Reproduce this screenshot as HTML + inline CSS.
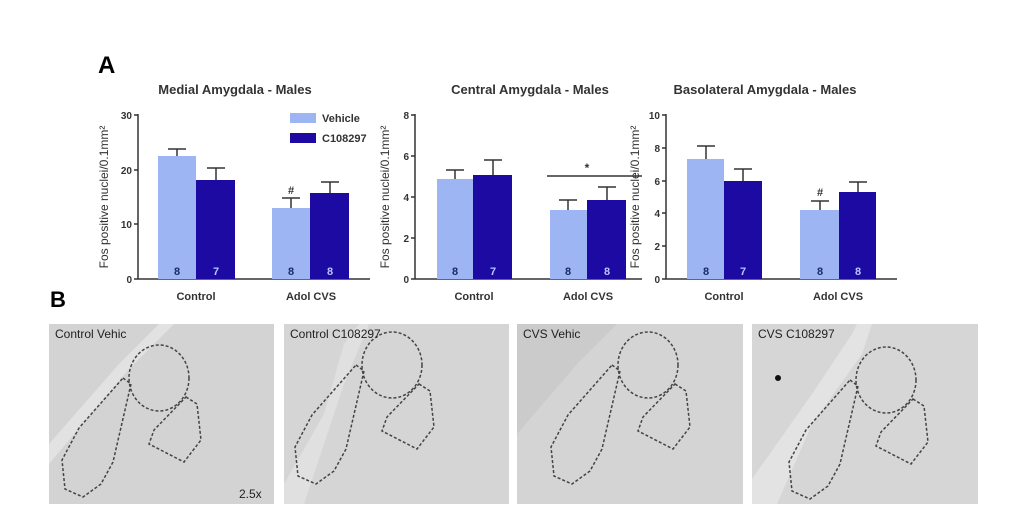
<!DOCTYPE html>
<html><head><meta charset="utf-8"><style>
html,body{margin:0;padding:0;background:#fff;}
svg{display:block;font-family:"Liberation Sans",Arial,sans-serif;}
</style></head><body>
<svg width="1023" height="515" viewBox="0 0 1023 515" xmlns="http://www.w3.org/2000/svg">
<rect width="1023" height="515" fill="#fff"/>
<text x="98" y="73" font-size="24" font-weight="bold">A</text>
<text x="50" y="307" font-size="22" font-weight="bold">B</text>

<g font-weight="bold" fill="#333">
<text x="235" y="94" font-size="13" text-anchor="middle">Medial Amygdala - Males</text>
<text x="530" y="94" font-size="13" text-anchor="middle">Central Amygdala - Males</text>
<text x="765" y="94" font-size="13" text-anchor="middle">Basolateral Amygdala - Males</text>
</g>

<!-- Panel 1 -->
<g stroke="#333" stroke-width="1.5" fill="none">
<line x1="138" y1="114" x2="138" y2="279"/><line x1="138" y1="279" x2="370" y2="279"/>
<line x1="134" y1="115" x2="138" y2="115"/><line x1="134" y1="170" x2="138" y2="170"/><line x1="134" y1="224" x2="138" y2="224"/><line x1="134" y1="279" x2="138" y2="279"/>
</g>
<g font-size="10" fill="#333" text-anchor="end" font-weight="bold"><text x="132" y="119">30</text><text x="132" y="174">20</text><text x="132" y="228">10</text><text x="132" y="283">0</text></g>
<text transform="translate(108,197) rotate(-90)" font-size="12" fill="#333" text-anchor="middle">Fos positive nuclei/0.1mm²</text>
<g stroke="#333" stroke-width="1.5">
<line x1="177" y1="156" x2="177" y2="149"/><line x1="168" y1="149" x2="186" y2="149"/>
<line x1="216" y1="180" x2="216" y2="168"/><line x1="207" y1="168" x2="225" y2="168"/>
<line x1="291" y1="208" x2="291" y2="198"/><line x1="282" y1="198" x2="300" y2="198"/>
<line x1="330" y1="193" x2="330" y2="182"/><line x1="321" y1="182" x2="339" y2="182"/>
</g>
<rect x="158" y="156" width="38" height="123" fill="#9db5f2"/>
<rect x="196" y="180" width="39" height="99" fill="#1c0aa3"/>
<rect x="272" y="208" width="38" height="71" fill="#9db5f2"/>
<rect x="310" y="193" width="39" height="86" fill="#1c0aa3"/>
<text x="291" y="194" font-size="11" font-weight="bold" text-anchor="middle" fill="#333">#</text>
<rect x="290" y="113" width="26" height="10" fill="#9db5f2"/><text x="322" y="122" font-size="11" font-weight="bold" fill="#333">Vehicle</text>
<rect x="290" y="133" width="26" height="10" fill="#1c0aa3"/><text x="322" y="142" font-size="11" font-weight="bold" fill="#333">C108297</text>

<!-- Panel 2 -->
<g stroke="#333" stroke-width="1.5" fill="none">
<line x1="415" y1="114" x2="415" y2="279"/><line x1="415" y1="279" x2="642" y2="279"/>
<line x1="411" y1="115" x2="415" y2="115"/><line x1="411" y1="156" x2="415" y2="156"/><line x1="411" y1="197" x2="415" y2="197"/><line x1="411" y1="238" x2="415" y2="238"/><line x1="411" y1="279" x2="415" y2="279"/>
</g>
<g font-size="10" fill="#333" text-anchor="end" font-weight="bold"><text x="409" y="119">8</text><text x="409" y="160">6</text><text x="409" y="201">4</text><text x="409" y="242">2</text><text x="409" y="283">0</text></g>
<text transform="translate(389,197) rotate(-90)" font-size="12" fill="#333" text-anchor="middle">Fos positive nuclei/0.1mm²</text>
<g stroke="#333" stroke-width="1.5">
<line x1="455" y1="179" x2="455" y2="170"/><line x1="446" y1="170" x2="464" y2="170"/>
<line x1="493" y1="175" x2="493" y2="160"/><line x1="484" y1="160" x2="502" y2="160"/>
<line x1="568" y1="210" x2="568" y2="200"/><line x1="559" y1="200" x2="577" y2="200"/>
<line x1="607" y1="200" x2="607" y2="187"/><line x1="598" y1="187" x2="616" y2="187"/>
<line x1="547" y1="176" x2="642" y2="176"/>
</g>
<rect x="437" y="179" width="36" height="100" fill="#9db5f2"/>
<rect x="473" y="175" width="39" height="104" fill="#1c0aa3"/>
<rect x="550" y="210" width="37" height="69" fill="#9db5f2"/>
<rect x="587" y="200" width="39" height="79" fill="#1c0aa3"/>
<text x="587" y="172" font-size="12" font-weight="bold" text-anchor="middle" fill="#333">*</text>

<!-- Panel 3 -->
<g stroke="#333" stroke-width="1.5" fill="none">
<line x1="666" y1="114" x2="666" y2="279"/><line x1="666" y1="279" x2="897" y2="279"/>
<line x1="662" y1="115" x2="666" y2="115"/><line x1="662" y1="148" x2="666" y2="148"/><line x1="662" y1="181" x2="666" y2="181"/><line x1="662" y1="213" x2="666" y2="213"/><line x1="662" y1="246" x2="666" y2="246"/><line x1="662" y1="279" x2="666" y2="279"/>
</g>
<g font-size="10" fill="#333" text-anchor="end" font-weight="bold"><text x="660" y="119">10</text><text x="660" y="152">8</text><text x="660" y="185">6</text><text x="660" y="217">4</text><text x="660" y="250">2</text><text x="660" y="283">0</text></g>
<text transform="translate(639,197) rotate(-90)" font-size="12" fill="#333" text-anchor="middle">Fos positive nuclei/0.1mm²</text>
<g stroke="#333" stroke-width="1.5">
<line x1="706" y1="159" x2="706" y2="146"/><line x1="697" y1="146" x2="715" y2="146"/>
<line x1="743" y1="181" x2="743" y2="169"/><line x1="734" y1="169" x2="752" y2="169"/>
<line x1="820" y1="210" x2="820" y2="201"/><line x1="811" y1="201" x2="829" y2="201"/>
<line x1="858" y1="192" x2="858" y2="182"/><line x1="849" y1="182" x2="867" y2="182"/>
</g>
<rect x="687" y="159" width="37" height="120" fill="#9db5f2"/>
<rect x="724" y="181" width="38" height="98" fill="#1c0aa3"/>
<rect x="800" y="210" width="39" height="69" fill="#9db5f2"/>
<rect x="839" y="192" width="37" height="87" fill="#1c0aa3"/>
<text x="820" y="196" font-size="11" font-weight="bold" text-anchor="middle" fill="#333">#</text>

<g font-size="11" font-weight="bold" text-anchor="middle">
<text x="177" y="275" fill="#1a2a6a">8</text><text x="216" y="275" fill="#b8c6ff">7</text><text x="291" y="275" fill="#1a2a6a">8</text><text x="330" y="275" fill="#b8c6ff">8</text>
<text x="455" y="275" fill="#1a2a6a">8</text><text x="493" y="275" fill="#b8c6ff">7</text><text x="568" y="275" fill="#1a2a6a">8</text><text x="607" y="275" fill="#b8c6ff">8</text>
<text x="706" y="275" fill="#1a2a6a">8</text><text x="743" y="275" fill="#b8c6ff">7</text><text x="820" y="275" fill="#1a2a6a">8</text><text x="858" y="275" fill="#b8c6ff">8</text>
</g>
<g font-size="11" font-weight="bold" text-anchor="middle" fill="#333">
<text x="196" y="300">Control</text><text x="311" y="300">Adol CVS</text>
<text x="474" y="300">Control</text><text x="588" y="300">Adol CVS</text>
<text x="724" y="300">Control</text><text x="838" y="300">Adol CVS</text>
</g>

<defs>
<g id="sh" fill="none" stroke="#444" stroke-width="1.5" stroke-dasharray="3,2">
<ellipse cx="110" cy="54" rx="30" ry="33"/>
<path d="M74,54 L82,60 L64,138 L52,160 L34,173 L16,165 L13,136 L30,104 Z"/>
<path d="M137,73 L148,80 L152,116 L135,138 L100,120 L105,106 Z"/>
</g>
</defs>
<svg x="49" y="324" width="225" height="180" overflow="hidden"><rect width="225" height="180" fill="#d3d3d3"/><path d="M0,120 L70,40 L110,0 L125,0 L80,45 L0,140 Z" fill="#e2e2e2"/><use href="#sh"/></svg>
<svg x="284" y="324" width="225" height="180" overflow="hidden"><rect width="225" height="180" fill="#d5d5d5"/><path d="M0,160 L40,90 L60,20 L75,0 L85,0 L60,60 L20,180 L0,180 Z" fill="#e0e0e0"/><use href="#sh" transform="translate(-2,-13)"/></svg>
<svg x="517" y="324" width="226" height="180" overflow="hidden"><rect width="226" height="180" fill="#d4d4d4"/><path d="M0,0 L100,0 L60,40 L0,110 Z" fill="#cbcbcb"/><use href="#sh" transform="translate(21,-13)"/></svg>
<svg x="752" y="324" width="226" height="180" overflow="hidden"><rect width="226" height="180" fill="#d6d6d6"/><path d="M0,155 L60,70 L100,10 L105,0 L120,0 L110,30 L60,100 L25,180 L0,180 Z" fill="#e3e3e3"/><use href="#sh" transform="translate(24,2)"/><circle cx="26" cy="54" r="3" fill="#111"/></svg>
<g font-size="12" fill="#222">
<text x="55" y="338">Control Vehic</text>
<text x="290" y="338">Control C108297</text>
<text x="523" y="338">CVS Vehic</text>
<text x="758" y="338">CVS C108297</text>
<text x="239" y="498">2.5x</text>
</g>
</svg>
</body></html>
